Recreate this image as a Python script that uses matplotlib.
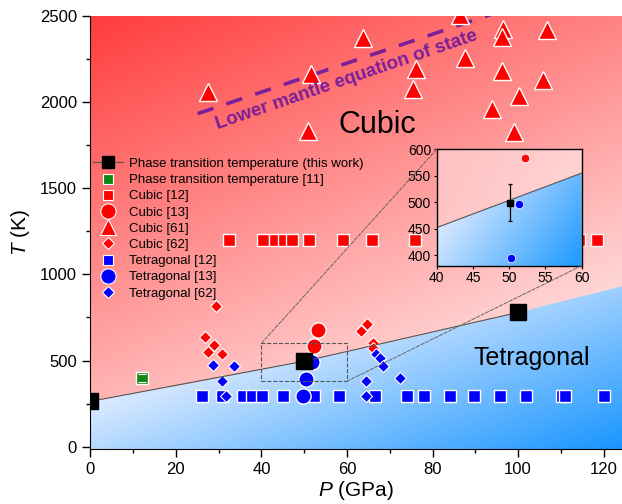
import matplotlib
matplotlib.use("Agg")
import matplotlib.pyplot as plt
import numpy as np
from matplotlib.lines import Line2D
from matplotlib.patches import Polygon, Rectangle, ConnectionPatch

plt.rcParams['font.family'] = ['Liberation Sans', 'DejaVu Sans']
plt.rcParams['mathtext.fontset'] = 'custom'
plt.rcParams['mathtext.it'] = 'Liberation Sans:italic'
plt.rcParams['mathtext.rm'] = 'Liberation Sans'

# phase transition temperature, this work
pt_P = [0, 50, 100]
pt_T = [263, 496, 779]
# phase transition temperature [11]
pt11_P = [12.1]
pt11_T = [397]
pt11_err = [24]

# cubic [12]
c12_P = [32.5, 40.4, 43.2, 45.3, 47.2, 51.2, 59.1, 65.9, 75.9, 114.3, 118.4]
c12_T = [1200] * 11
# cubic [13]
c13_P = [52.3, 53.3]
c13_T = [584, 677]
# cubic [61]
c61_P = [27.6, 51.5, 63.8, 50.9, 76.2, 75.4, 86.5, 87.7, 96.4, 96.2, 96.2,
         106.8, 105.8, 100.3, 93.9, 99.1]
c61_T = [2057, 2163, 2371, 1830, 2193, 2077, 2502, 2257, 2420, 2375, 2179,
         2418, 2128, 2036, 1959, 1826]
# cubic [62]
c62_P = [29.3, 26.8, 28.9, 27.6, 30.9, 64.8, 63.4, 66.0, 66.0]
c62_T = [815, 638, 591, 550, 540, 713, 673, 599, 572]

# tetragonal [12]
t12_P = [26.2, 30.9, 35.7, 37.7, 40.1, 45.0, 52.3, 58.2, 66.5, 74.1, 78.0,
         84.1, 89.6, 95.8, 101.9, 110.2, 111.0, 120.0]
t12_T = [296] * 18
# tetragonal [13]
t13_P = [51.8, 50.4, 49.8]
t13_T = [490, 391, 296]
# tetragonal [62]
t62_P = [28.7, 33.5, 30.8, 31.7, 66.7, 67.7, 68.5, 64.4, 64.4, 72.4]
t62_T = [477, 467, 383, 296, 536, 517, 467, 383, 296, 399]

# cubic / tetragonal boundary
bnd_P = [0, 25, 50, 75, 100, 125]
bnd_T = [263, 375, 497, 632, 779, 935]

# lower mantle equation of state
lm_P = [25.1, 94.0]
lm_T = [1932, 2510]

# inset data
ins_line_P = [40, 60]
ins_line_T = [452, 555]
ins_pt_P, ins_pt_T, ins_pt_err = [50.1], [499], [35]
ins_t13_P = [51.3, 50.2]
ins_t13_T = [496, 395]
ins_c13_P = [52.2]
ins_c13_T = [584]

XLIM = (0, 124.3)
YLIM = (-13, 2500)
IXLIM = (40, 60)
IYLIM = (380, 600)


def red_grad(xn, yn):
    g = np.clip(60 + 70 * xn + 135 * (1 - yn), 0, 240) / 255
    return np.dstack([np.ones_like(g), g, g])


def blue_grad(xn, yn):
    u = np.clip(0.2 + 0.8 * xn - 1.8 * yn, 0, 1)
    return np.dstack([(222 - 197 * u) / 255, (235 - 85 * u) / 255, np.ones_like(u)])


def red_grad_ins(xn, yn):
    g = np.clip(192 + 18 * xn + 8 * (1 - yn), 0, 240) / 255
    return np.dstack([np.ones_like(g), g, g])


def blue_grad_ins(xn, yn):
    u = np.clip(0.2 + 0.85 * xn - 0.5 * yn, 0, 1)
    return np.dstack([(225 - 190 * u) / 255, (236 - 80 * u) / 255, np.ones_like(u)])


def draw_background(ax, xlim, ylim, top_fn, bottom_fn, bx, by):
    xn, yn = np.meshgrid(np.linspace(0, 1, 300), np.linspace(0, 1, 300))
    ext = [xlim[0], xlim[1], ylim[0], ylim[1]]
    ax.imshow(top_fn(xn, yn), extent=ext, origin='lower', aspect='auto', zorder=0)
    im = ax.imshow(bottom_fn(xn, yn), extent=ext, origin='lower', aspect='auto', zorder=0)
    verts = list(zip(bx, by)) + [(bx[-1], ylim[0] - 100), (bx[0], ylim[0] - 100)]
    poly = Polygon(verts, closed=True, transform=ax.transData)
    im.set_clip_path(poly)


fig = plt.figure(figsize=(6.22, 5.04), dpi=100)
ax = fig.add_axes([90.3 / 622, 55 / 504, (622 - 90.3) / 622, 433.3 / 504])

draw_background(ax, XLIM, YLIM, red_grad, blue_grad, bnd_P, bnd_T)

wk = dict(ls='none', mec='white')
ax.plot(lm_P, lm_T, color='#7a1f9a', lw=2.6, dashes=(4.6, 3.8), zorder=2)
ax.plot(c61_P, c61_T, marker='^', ms=13.5, mfc='#ff0000', mew=1, **wk)
ax.plot(c12_P, c12_T, marker='s', ms=8, mfc='#ff0000', mew=1, **wk)
ax.plot(t12_P, t12_T, marker='s', ms=8, mfc='#0000ff', mew=1, **wk)
ax.plot(c62_P, c62_T, marker='D', ms=6, mfc='#ff0000', mew=0.8, **wk)
ax.plot(t62_P, t62_T, marker='D', ms=6, mfc='#0000ff', mew=0.8, **wk)
ax.plot(c13_P, c13_T, marker='o', ms=11, mfc='#ff0000', mew=1, **wk)
ax.plot(t13_P, t13_T, marker='o', ms=11, mfc='#0000ff', mew=1, **wk)
ax.plot(pt11_P, pt11_T, marker='s', ms=8, mfc='#118811', mew=1, **wk)
ax.errorbar(pt11_P, pt11_T, yerr=pt11_err, fmt='none', ecolor='white',
            elinewidth=0, capsize=3, capthick=0.8)
ax.plot(pt_P, pt_T, color='#555555', lw=0.8, marker='s', ms=11.5,
        mfc='black', mec='black', clip_on=True)

ax.text(67.1, 1865, 'Cubic', fontsize=22, ha='center', va='center')
ax.text(103.1, 517, 'Tetragonal', fontsize=18, ha='center', va='center')
ax.text(60.0, 2125, 'Lower mantle equation of state', fontsize=13.5,
        fontweight='bold', color='#7a1f9a', rotation=19,
        ha='center', va='center', rotation_mode='anchor')

ax.set_xlim(*XLIM)
ax.set_ylim(*YLIM)
ax.set_xticks(range(0, 121, 20))
ax.set_xticks(range(10, 121, 20), minor=True)
ax.set_yticks(range(0, 2501, 500))
ax.set_yticks(range(250, 2501, 500), minor=True)
ax.tick_params(which='major', length=6, width=1, labelsize=12, direction='out')
ax.tick_params(which='minor', length=3, width=1, direction='out')
ax.spines['top'].set_visible(False)
ax.spines['right'].set_visible(False)
ax.set_xlabel(r'$P$ (GPa)', fontsize=15, labelpad=1)
ax.set_ylabel(r'$T$ (K)', fontsize=15, labelpad=6)

handles = [
    Line2D([], [], color='#555555', lw=0.8, marker='s', ms=8, mfc='black', mec='black',
           label='Phase transition temperature (this work)'),
    Line2D([], [], marker='s', ms=7.5, mfc='#118811', mew=0.8, label='Phase transition temperature [11]', **wk),
    Line2D([], [], marker='s', ms=7.5, mfc='#ff0000', mew=0.8, label='Cubic [12]', **wk),
    Line2D([], [], marker='o', ms=11, mfc='#ff0000', mew=0.8, label='Cubic [13]', **wk),
    Line2D([], [], marker='^', ms=12, mfc='#ff0000', mew=0.8, label='Cubic [61]', **wk),
    Line2D([], [], marker='D', ms=6, mfc='#ff0000', mew=0.8, label='Cubic [62]', **wk),
    Line2D([], [], marker='s', ms=7.5, mfc='#0000ff', mew=0.8, label='Tetragonal [12]', **wk),
    Line2D([], [], marker='o', ms=11, mfc='#0000ff', mew=0.8, label='Tetragonal [13]', **wk),
    Line2D([], [], marker='D', ms=6, mfc='#0000ff', mew=0.8, label='Tetragonal [62]', **wk),
]
ax.legend(handles=handles, loc='upper left', bbox_to_anchor=(0.0, 0.678), frameon=False,
          fontsize=9.5, handlelength=2.3, handletextpad=0.4, labelspacing=0.3,
          borderaxespad=0, borderpad=0.2)

# zoom box and inset
ax.add_patch(Rectangle((IXLIM[0], IYLIM[0]), IXLIM[1] - IXLIM[0], IYLIM[1] - IYLIM[0],
                       fill=False, ls='--', ec='#555555', lw=0.8, zorder=4))

axins = fig.add_axes([436.7 / 622, (504 - 265.7) / 504, 145 / 622, 116.4 / 504])
draw_background(axins, IXLIM, IYLIM, red_grad_ins, blue_grad_ins, ins_line_P, ins_line_T)
axins.plot(ins_line_P, ins_line_T, color='#555555', lw=0.8)
axins.errorbar(ins_pt_P, ins_pt_T, yerr=ins_pt_err, fmt='s', ms=4.5, color='black',
               elinewidth=0.9, capsize=1.5, capthick=0.9)
axins.plot(ins_t13_P, ins_t13_T, marker='o', ms=6, mfc='#0000ff', mew=0.5, **wk)
axins.plot(ins_c13_P, ins_c13_T, marker='o', ms=6, mfc='#ff0000', mew=0.5, **wk)
axins.set_xlim(*IXLIM)
axins.set_ylim(*IYLIM)
axins.set_xticks(range(40, 61, 5))
axins.set_yticks(range(400, 601, 50))
axins.tick_params(length=2.5, width=0.8, labelsize=10, pad=1.5)
for s in axins.spines.values():
    s.set_linewidth(1.0)

for xa, ya, xb, yb in [(IXLIM[0], IYLIM[1], 0, 1), (IXLIM[1], IYLIM[0], 1, 0)]:
    con = ConnectionPatch(xyA=(xa, ya), coordsA=ax.transData, xyB=(xb, yb),
                          coordsB=axins.transAxes, ls='--', color='#666666', lw=0.7)
    fig.add_artist(con)

fig.savefig('out.png', dpi=100)
